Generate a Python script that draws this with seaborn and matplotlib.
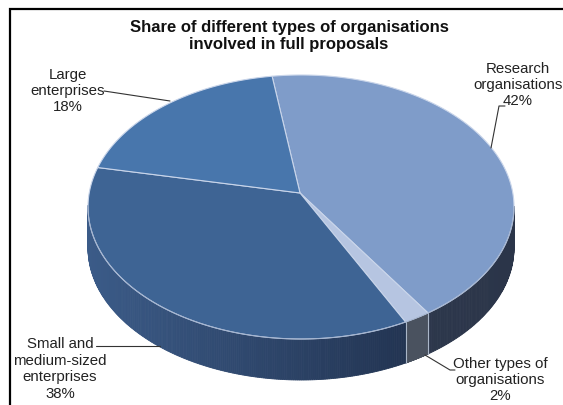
import numpy as np
import matplotlib
matplotlib.use("Agg")
import matplotlib.pyplot as plt
import seaborn as sns
from matplotlib.colors import to_rgb

# slice data, clockwise from the top
LABELS = [
    "Research\norganisations\n42%",
    "Other types of\norganisations\n2%",
    "Small and\nmedium-sized\nenterprises\n38%",
    "Large\nenterprises\n18%",
]
SHARES = [42, 2, 38, 18]
TOP_COLORS = ["#7f9cc9", "#b6c5e1", "#3e6494", "#4876ac"]
# side colours (right end, left end) for the gradient
SIDE_COLORS = [
    ("#2b3549", "#333f56"),
    ("#4a525f", "#4a525f"),
    ("#1a2740", "#3b5b88"),
    ("#3b5b88", "#3b5b88"),
]
TITLE = "Share of different types of organisations\ninvolved in full proposals"

# geometry of the tilted pie (pixel space of the figure)
CX, CY, RX, RY, DEPTH = 301, 207, 213, 132, 41
APEX = (300, 193)
START = 97.8


def arc(t0, t1, n=200):
    t = np.radians(np.linspace(t0, t1, n))
    return CX + RX * np.cos(t), CY - RY * np.sin(t)


def mix(c1, c2, f):
    a, b = np.array(to_rgb(c1)), np.array(to_rgb(c2))
    return tuple(a + (b - a) * f)


sns.set_theme(style="white")
plt.rcParams["font.family"] = ["Liberation Sans", "DejaVu Sans"]

fig = plt.figure(figsize=(5.63, 4.05), dpi=100)
ax = fig.add_axes([0, 0, 1, 1])
ax.set_xlim(0, 563)
ax.set_ylim(405, 0)
ax.axis("off")

bounds = []
t = START
for share in SHARES:
    t_next = t - share / 100 * 360
    bounds.append((t, t_next))
    t = t_next

# side walls (front half only)
for (t0, t1), (c_right, c_left) in zip(bounds, SIDE_COLORS):
    ts = np.linspace(t0, t1, 240)
    for a, b in zip(ts[:-1], ts[1:]):
        mid = np.radians((a + b) / 2)
        if np.sin(mid) > 0.01:
            continue
        xa, ya = arc(a, b, 2)
        f = (1 - np.cos(mid)) / 2
        col = mix(c_right, c_left, f)
        xs = [xa[0], xa[1], xa[1], xa[0]]
        ys = [ya[0], ya[1], ya[1] + DEPTH, ya[0] + DEPTH]
        ax.fill(xs, ys, color=col, lw=0.6, ec=col)

# light seams on the side
for (t0, _) in bounds:
    r = np.radians(t0)
    if np.sin(r) < 0:
        x0 = CX + RX * np.cos(r)
        y0 = CY - RY * np.sin(r)
        ax.plot([x0, x0], [y0, y0 + DEPTH], color="#aab6c8", lw=0.8)

# top faces
for (t0, t1), col in zip(bounds, TOP_COLORS):
    xs, ys = arc(t0, t1)
    ax.fill(np.r_[APEX[0], xs], np.r_[APEX[1], ys], color=col, ec="#c9d5ea", lw=0.8)

xs, ys = arc(180, 360, 300)
ax.plot(xs, ys, color="#9fb0cc", lw=0.6)

# title
ax.text(289, 36, TITLE, ha="center", va="center", fontsize=12,
        fontweight="bold", color="#111111", linespacing=1.19)

# labels and leader lines
txt = dict(ha="center", va="center", fontsize=10.8, color="#222222", linespacing=1.22)
line = dict(color="#333333", lw=0.8)
ax.text(68, 91, LABELS[3], **txt)
ax.plot([104, 170], [91, 101], **line)

ax.text(518, 85, LABELS[0], **txt)
ax.plot([505, 499, 491], [106, 106, 148], **line)

ax.text(60, 369, LABELS[2], **txt)
ax.plot([96, 160], [346, 346], **line)

ax.text(500, 380, LABELS[1], **txt)
ax.plot([425, 450, 455], [355, 370, 370], **line)

# frame (cut by the image edge on right and bottom)
ax.plot([10, 10, 563], [405, 9, 9], color="black", lw=1.6, solid_joinstyle="miter")

fig.savefig("out.png", dpi=100)
